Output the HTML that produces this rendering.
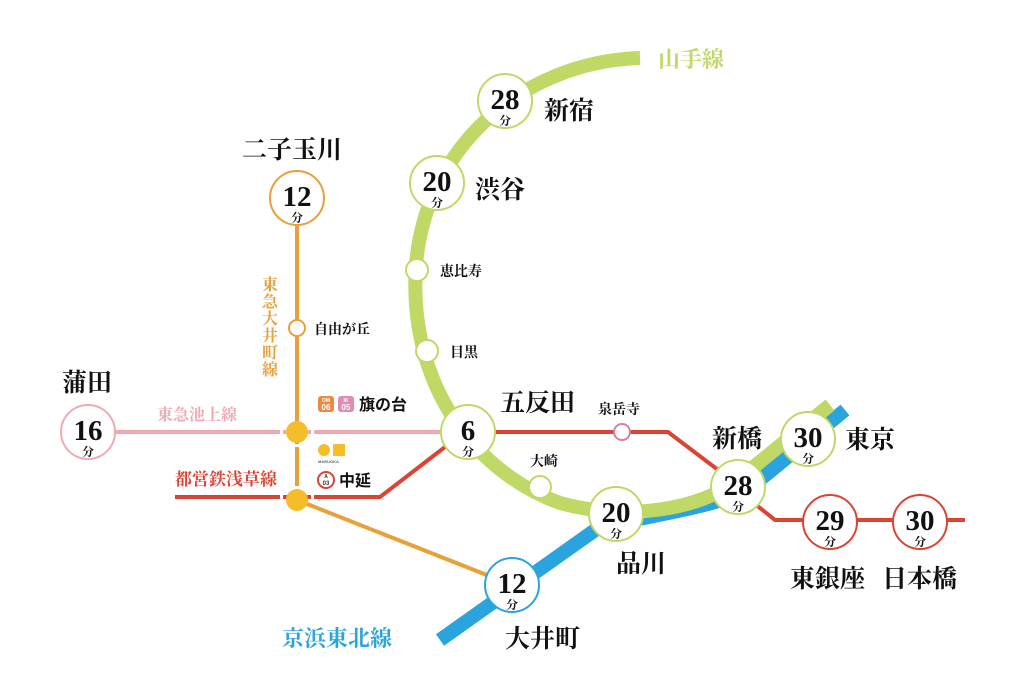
<!DOCTYPE html>
<html><head><meta charset="utf-8"><style>
html,body{margin:0;padding:0;background:#fff;}
svg{display:block;}
.s{font-family:"Liberation Serif","Noto Serif CJK JP",serif;font-weight:bold;}
.g{font-family:"Liberation Sans","Noto Sans CJK JP",sans-serif;font-weight:bold;}
</style></head><body>
<svg width="1024" height="699" viewBox="0 0 1024 699" xmlns="http://www.w3.org/2000/svg">
<path d="M440,640 L598,528 C650,515 700,510 745,492 L845,410" stroke="#2aa4de" stroke-width="14" fill="none"/>
<path d="M640,58 C520,62 425,150 416,265 C408,380 470,470 560,503 C630,522 700,508 735,482 L830,405" stroke="#bfd866" stroke-width="14" fill="none"/>
<line x1="297" y1="224" x2="297" y2="500" stroke="#e8a03a" stroke-width="4"/>
<line x1="297" y1="500" x2="512" y2="585" stroke="#e8a03a" stroke-width="4"/>
<line x1="114" y1="432" x2="445" y2="432" stroke="#f0a9b2" stroke-width="4"/>
<polyline points="175,497 380,497 445,447" stroke="#db4434" stroke-width="4" fill="none"/>
<polyline points="490,432 668,432 738,485" stroke="#db4434" stroke-width="4" fill="none"/>
<polyline points="750,500 775,520 965,520" stroke="#db4434" stroke-width="4" fill="none"/>
<rect x="280" y="428" width="3" height="8" fill="#fff"/><rect x="311" y="428" width="3" height="8" fill="#fff"/>
<rect x="280" y="493" width="3" height="8" fill="#fff"/><rect x="311" y="493" width="3" height="8" fill="#fff"/>
<rect x="293" y="444" width="8" height="3" fill="#fff"/><rect x="293" y="486" width="8" height="3" fill="#fff"/>
<circle cx="297" cy="432" r="11" fill="#f5bd2a"/>
<circle cx="297" cy="500" r="11" fill="#f5bd2a"/>
<circle cx="297" cy="328" r="8" fill="#fff" stroke="#e8a03a" stroke-width="2"/>
<circle cx="417" cy="270" r="11" fill="#fff" stroke="#bfd866" stroke-width="2"/>
<circle cx="427" cy="351" r="11" fill="#fff" stroke="#bfd866" stroke-width="2"/>
<circle cx="540" cy="487" r="11" fill="#fff" stroke="#bfd866" stroke-width="2"/>
<circle cx="622" cy="432" r="8" fill="#fff" stroke="#d880a0" stroke-width="2"/>
<g fill="#fff" stroke-width="2">
<circle cx="505" cy="101" r="27" stroke="#bfd866"/>
<circle cx="437" cy="183" r="27" stroke="#bfd866"/>
<circle cx="468" cy="432" r="27" stroke="#bfd866"/>
<circle cx="616" cy="514" r="27" stroke="#bfd866"/>
<circle cx="738" cy="487" r="27" stroke="#bfd866"/>
<circle cx="808" cy="439" r="27" stroke="#bfd866"/>
<circle cx="512" cy="585" r="27" stroke="#2aa4de"/>
<circle cx="297" cy="198" r="27" stroke="#e8a03a"/>
<circle cx="88" cy="432" r="27" stroke="#f0a9b2"/>
<circle cx="830" cy="522" r="27" stroke="#db4434"/>
<circle cx="920" cy="522" r="27" stroke="#db4434"/>
</g>
<g class="s" text-anchor="middle" fill="#111">
<text x="505" y="109" font-size="29">28</text><text x="505" y="125" font-size="12">分</text>
<text x="437" y="191" font-size="29">20</text><text x="437" y="207" font-size="12">分</text>
<text x="468" y="440" font-size="29">6</text><text x="468" y="456" font-size="12">分</text>
<text x="616" y="522" font-size="29">20</text><text x="616" y="538" font-size="12">分</text>
<text x="738" y="495" font-size="29">28</text><text x="738" y="511" font-size="12">分</text>
<text x="808" y="447" font-size="29">30</text><text x="808" y="463" font-size="12">分</text>
<text x="512" y="593" font-size="29">12</text><text x="512" y="609" font-size="12">分</text>
<text x="297" y="206" font-size="29">12</text><text x="297" y="222" font-size="12">分</text>
<text x="88" y="440" font-size="29">16</text><text x="88" y="456" font-size="12">分</text>
<text x="830" y="530" font-size="29">29</text><text x="830" y="546" font-size="12">分</text>
<text x="920" y="530" font-size="29">30</text><text x="920" y="546" font-size="12">分</text>
</g>
<g class="s" fill="#111" font-size="25">
<text x="544" y="119">新宿</text>
<text x="475" y="198">渋谷</text>
<text x="242" y="158">二子玉川</text>
<text x="62" y="391">蒲田</text>
<text x="500" y="411">五反田</text>
<text x="712" y="447">新橋</text>
<text x="845" y="448">東京</text>
<text x="616" y="572">品川</text>
<text x="505" y="647">大井町</text>
<text x="790" y="587">東銀座</text>
<text x="882" y="587">日本橋</text>
</g>
<g class="s" fill="#111" font-size="14">
<text x="440" y="276">恵比寿</text>
<text x="450" y="357">目黒</text>
<text x="530" y="466">大崎</text>
<text x="598" y="414">泉岳寺</text>
<text x="314" y="334">自由が丘</text>
</g>
<text class="s" x="658" y="67" font-size="22" fill="#bfd866">山手線</text>
<text class="s" x="282" y="646" font-size="22" fill="#2aa4de">京浜東北線</text>
<text class="s" x="157" y="420" font-size="16" fill="#f0a9b2">東急池上線</text>
<text class="s" x="175" y="485" font-size="17" fill="#db4434">都営鉄浅草線</text>
<g class="s" font-size="16" fill="#e8a03a" text-anchor="middle">
<text x="270" y="290">東</text><text x="270" y="307">急</text><text x="270" y="324">大</text><text x="270" y="341">井</text><text x="270" y="358">町</text><text x="270" y="375">線</text>
</g>
<rect x="318" y="396" width="16" height="16" rx="3" fill="#ec8a45"/>
<rect x="338" y="396" width="16" height="16" rx="3" fill="#e08ab4"/>
<g class="g" fill="#fff" text-anchor="middle"><text x="326" y="402" font-size="5">OM</text><text x="326" y="410" font-size="8">06</text><text x="346" y="402" font-size="5">IK</text><text x="346" y="410" font-size="8">05</text></g>
<text class="g" x="359" y="410" font-size="16" fill="#111">旗の台</text>
<circle cx="324" cy="450" r="6" fill="#f5bd2a"/><rect x="333" y="444" width="12" height="12" fill="#f5bd2a"/>
<text class="g" x="318" y="463" font-size="4" fill="#666" font-weight="normal">MARUOKA</text>
<circle cx="326" cy="480" r="8" fill="#fff" stroke="#db4434" stroke-width="2"/>
<text class="g" x="326" y="478" font-size="5" text-anchor="middle" fill="#333" font-weight="normal">A</text>
<text class="g" x="326" y="485" font-size="6" text-anchor="middle" fill="#333" font-weight="normal">03</text>
<text class="g" x="339" y="486" font-size="16" fill="#111">中延</text>
</svg>
</body></html>
